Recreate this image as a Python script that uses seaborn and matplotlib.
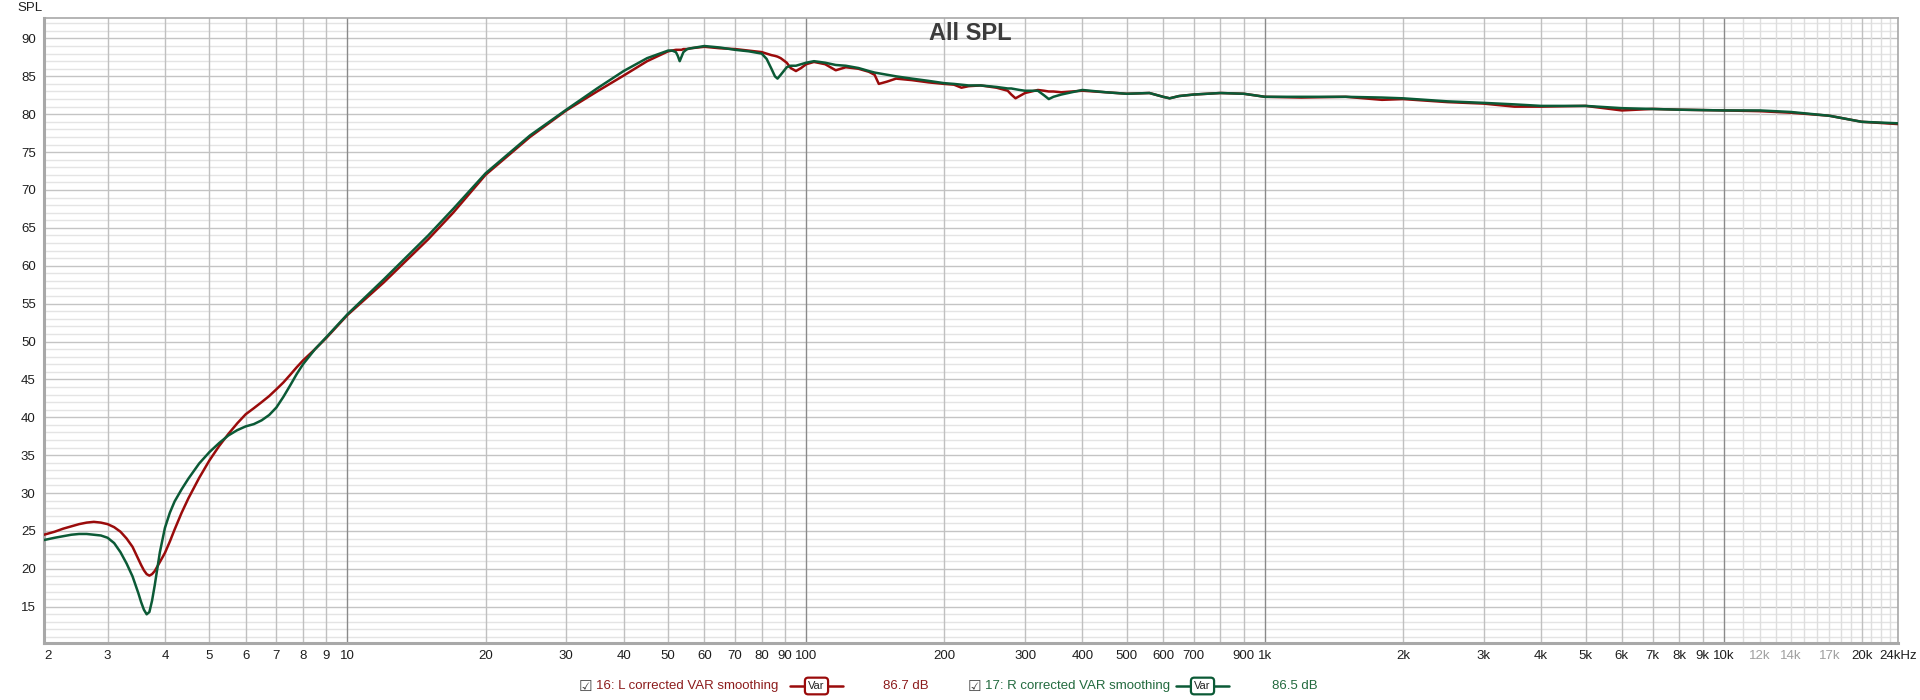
"""
plot.py - REW style "All SPL" overlay of the L and R corrected responses.
"""

import matplotlib
matplotlib.use("Agg")
import matplotlib.pyplot as plt
import pandas as pd
import seaborn as sns

# ── Data ─────────────────────────────────────────────────────────────────────
FREQ = [
    2.18, 2.3, 2.4, 2.5, 2.6, 2.7, 2.8, 2.9, 3.0, 3.1, 3.2, 3.3, 3.4, 3.5,
    3.55, 3.6, 3.65, 3.7, 3.75, 3.8, 3.85, 3.9, 4.0, 4.1, 4.2, 4.35, 4.5,
    4.75, 5.0, 5.25, 5.5, 5.75, 6.0, 6.25, 6.5, 6.75, 7.0, 7.25, 7.5, 7.75,
    8.0, 8.5, 9.0, 10, 12, 15, 17, 20, 25, 30, 35, 40, 45, 50, 51, 52, 52.5,
    53, 53.5, 54, 55, 56, 60, 65, 70, 75, 80, 82, 84, 85.5, 86.6, 88, 90.7,
    92.5, 95, 97.5, 100, 104, 110, 116, 122, 130, 137, 141, 144, 150, 157,
    170, 185, 200, 210, 218, 226, 240, 260, 275, 280, 286, 292, 300, 320,
    330, 338, 346, 360, 400, 450, 500, 560, 600, 620, 650, 700, 800, 900,
    1000, 1200, 1500, 1800, 2000, 2500, 3000, 3500, 4000, 5000, 6000, 7000,
    8000, 10000, 12000, 14000, 17000, 20000, 24000,
]
SPL_L = [
    24.5, 24.9, 25.3, 25.6, 25.9, 26.1, 26.2, 26.1, 25.9, 25.5, 24.9, 24.0,
    22.9, 21.3, 20.5, 19.8, 19.3, 19.1, 19.3, 19.7, 20.3, 20.9, 22.1, 23.6,
    25.2, 27.4, 29.3, 32.0, 34.3, 36.2, 37.8, 39.2, 40.4, 41.2, 42.0, 42.8,
    43.7, 44.6, 45.6, 46.6, 47.5, 49.0, 50.5, 53.5, 57.8, 63.5, 67.0, 72.0,
    77.0, 80.5, 83.0, 85.1, 87.0, 88.3, 88.4, 88.5, 88.5, 88.5, 88.5, 88.6,
    88.6, 88.7, 88.9, 88.7, 88.6, 88.4, 88.2, 88.0, 87.8, 87.7, 87.6, 87.4,
    86.8, 86.1, 85.7, 86.1, 86.6, 86.9, 86.6, 85.8, 86.2, 86.0, 85.6, 85.2,
    84.0, 84.3, 84.7, 84.5, 84.2, 84.0, 83.9, 83.5, 83.7, 83.8, 83.5, 83.1,
    82.6, 82.1, 82.4, 82.8, 83.2, 83.1, 83.0, 83.0, 82.9, 83.1, 82.9, 82.7,
    82.8, 82.3, 82.1, 82.4, 82.6, 82.8, 82.7, 82.3, 82.2, 82.3, 81.9, 82.0,
    81.6, 81.4, 81.0, 81.0, 81.1, 80.5, 80.7, 80.6, 80.5, 80.4, 80.2, 79.8,
    79.0, 78.7,
]
SPL_R = [
    23.8, 24.1, 24.3, 24.5, 24.6, 24.6, 24.5, 24.4, 24.1, 23.4, 22.2, 20.7,
    19.0, 16.8, 15.6, 14.6, 14.0, 14.3, 15.8, 17.8, 20.0, 22.2, 25.4, 27.4,
    28.9, 30.5, 31.9, 33.9, 35.4, 36.6, 37.6, 38.3, 38.8, 39.1, 39.6, 40.3,
    41.3, 42.7, 44.2, 45.7, 47.0, 49.0, 50.6, 53.6, 58.2, 64.0, 67.5, 72.2,
    77.2, 80.6, 83.4, 85.7, 87.4, 88.4, 88.4, 88.2, 87.7, 87.0, 87.6, 88.2,
    88.6, 88.7, 89.0, 88.8, 88.5, 88.3, 88.0, 87.3, 86.0, 85.0, 84.7, 85.2,
    86.2, 86.4, 86.4, 86.6, 86.8, 87.0, 86.8, 86.5, 86.4, 86.1, 85.7, 85.5,
    85.4, 85.2, 85.0, 84.7, 84.4, 84.1, 84.0, 83.9, 83.8, 83.8, 83.6, 83.4,
    83.4, 83.3, 83.2, 83.1, 83.1, 82.5, 82.0, 82.3, 82.6, 83.2, 82.9, 82.7,
    82.8, 82.3, 82.1, 82.4, 82.6, 82.8, 82.7, 82.3, 82.3, 82.3, 82.2, 82.1,
    81.7, 81.5, 81.3, 81.1, 81.1, 80.8, 80.7, 80.6, 80.5, 80.5, 80.3, 79.8,
    79.0, 78.8,
]

CHANNELS = ["16: L corrected VAR smoothing", "17: R corrected VAR smoothing"]
AVERAGES = ["86.7 dB", "86.5 dB"]

X_TICKS = [2.18, 3, 4, 5, 6, 7, 8, 9, 10, 20, 30, 40, 50, 60, 70, 80, 90,
           100, 200, 300, 400, 500, 600, 700, 900, 1000, 2000, 3000, 4000,
           5000, 6000, 7000, 8000, 9000, 10000, 12000, 14000, 17000, 20000,
           24000]
X_LABELS = ["2", "3", "4", "5", "6", "7", "8", "9", "10", "20", "30", "40",
            "50", "60", "70", "80", "90", "100", "200", "300", "400", "500",
            "600", "700", "900", "1k", "2k", "3k", "4k", "5k", "6k", "7k",
            "8k", "9k", "10k", "12k", "14k", "17k", "20k", "24kHz"]
GREY_LABELS = ["12k", "14k", "17k"]
Y_TICKS = list(range(15, 95, 5))

# ── Style ────────────────────────────────────────────────────────────────────
RED = "#9a0b0b"
GREEN = "#0b5a36"
TXT_RED = "#8c1c1c"
TXT_GREEN = "#226a3e"
NARROW = ["Liberation Sans Narrow", "Liberation Sans", "DejaVu Sans"]

sns.set_theme(style="white")
plt.rcParams["font.family"] = ["Liberation Sans", "DejaVu Sans"]

fig = plt.figure(figsize=(19.2, 7.0), dpi=100)
ax = fig.add_axes([44 / 1920, 1 - 642.7 / 700, (1898 - 44) / 1920, (642.7 - 18) / 700])

# ── Grid ─────────────────────────────────────────────────────────────────────
ax.set_xscale("log")
ax.set_xlim(2.18, 24000)
ax.set_ylim(10.25, 92.7)

for db in range(11, 93):
    major = db % 5 == 0
    ax.axhline(db, color="#c4c4c4" if major else "#e4e4e4", lw=1.0, zorder=0)

vlines = [m * d for d in (1, 10, 100, 1000) for m in range(1, 10)] + list(range(10000, 24001, 1000))
for f in vlines:
    if f <= 2.18:
        continue
    if f in (10, 100, 1000, 10000):
        col = "#8a8a8a"
    elif f > 10000 and f != 20000:
        col = "#dedede"
    else:
        col = "#c0c0c0"
    ax.axvline(f, color=col, lw=1.0, zorder=0)

# ── Curves ───────────────────────────────────────────────────────────────────
df = pd.concat([
    pd.DataFrame({"freq": FREQ, "spl": SPL_L, "channel": CHANNELS[0]}),
    pd.DataFrame({"freq": FREQ, "spl": SPL_R, "channel": CHANNELS[1]}),
])
sns.lineplot(data=df, x="freq", y="spl", hue="channel",
             palette={CHANNELS[0]: RED, CHANNELS[1]: GREEN},
             estimator=None, sort=False, lw=1.8, legend=False, ax=ax, zorder=3)
for ln in ax.get_lines():
    ln.set_solid_joinstyle("round")

# ── Axes, ticks ──────────────────────────────────────────────────────────────
ax.set_xticks(X_TICKS)
ax.set_xticklabels(X_LABELS)
ax.minorticks_off()
ax.set_yticks(Y_TICKS)
ax.tick_params(axis="both", length=0, labelsize=9.5, colors="#1e1e1e")
ax.tick_params(axis="x", pad=5)
ax.tick_params(axis="y", pad=6)
for lab in ax.get_xticklabels():
    lab.set_family(NARROW)
    if lab.get_text() in GREY_LABELS:
        lab.set_color("#a0a0a0")
    if lab.get_text() == "2":
        lab.set_horizontalalignment("left")
for lab in ax.get_yticklabels():
    lab.set_family(NARROW)
ax.set_xlabel("")
ax.set_ylabel("")

for side, sp in ax.spines.items():
    sp.set_color("#a8a8a8")
    sp.set_linewidth(2.2 if side in ("left", "bottom") else 1.2)

fig.text(17 / 1920, 1 - 8 / 700, "SPL", fontsize=9.5, color="#1e1e1e",
         family=NARROW, ha="left", va="center")
fig.text(970 / 1920, 1 - 33 / 700, "All SPL", fontsize=17, fontweight="bold",
         color="#3c3c3c", ha="center", va="center")

# ── Legend strip ─────────────────────────────────────────────────────────────
ly = 1 - 686 / 700
items = [
    (596, 790, 843, 883, CHANNELS[0], AVERAGES[0], RED, TXT_RED),
    (985, 1176, 1229, 1272, CHANNELS[1], AVERAGES[1], GREEN, TXT_GREEN),
]
for tx, l0, l1, vx, name, avg, col, tcol in items:
    fig.text((tx - 4) / 1920, ly, "\u2611", fontsize=11, color="#444444",
             family=["DejaVu Sans"], ha="right", va="center")
    fig.text(tx / 1920, ly, name, fontsize=9.5, color=tcol, family=NARROW,
             ha="left", va="center")
    fig.add_artist(plt.Line2D([l0 / 1920, l1 / 1920], [ly, ly], color=col,
                              lw=1.8, transform=fig.transFigure))
    fig.text((l0 + l1) / 2 / 1920, ly, "Var", fontsize=8, color="#222222",
             family=NARROW, ha="center", va="center",
             bbox=dict(boxstyle="round,pad=0.3", fc="white", ec=col, lw=1.6))
    fig.text(vx / 1920, ly, avg, fontsize=9.5, color=tcol, family=NARROW,
             ha="left", va="center")

fig.savefig("out.png", dpi=100, facecolor="white")
